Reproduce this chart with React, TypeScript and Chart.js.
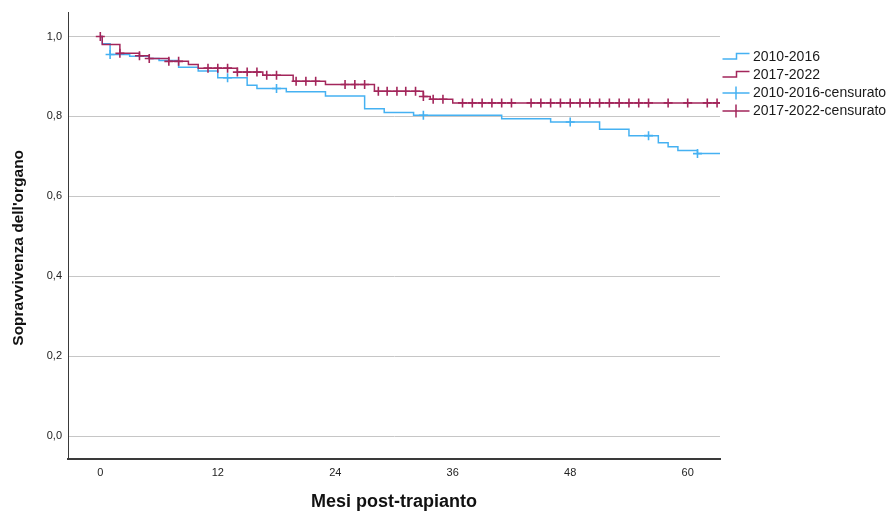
import React, { useEffect, useRef } from "react";
import { Chart, registerables } from "chart.js";

Chart.register(...registerables);

// ---- Data ----
const blueTimes = [0, 0.2, 1, 3, 5, 6, 8, 10, 12, 15, 16, 19, 23, 27, 29, 32, 41, 46, 51, 54, 57, 58, 59, 61, 63.3];
const blueSurv = [1.0, 0.982, 0.955, 0.951, 0.945, 0.94, 0.923, 0.914, 0.897, 0.878, 0.87, 0.862, 0.851, 0.819, 0.81, 0.803, 0.794, 0.786, 0.768, 0.752, 0.734, 0.724, 0.715, 0.707, 0.707];
const blueCensorTimes = [1, 13, 18, 33, 48, 56, 61];

const redTimes = [0, 0.2, 2, 4, 5, 7, 9, 10, 14, 16.6, 19.7, 23, 28, 33, 33.7, 36, 63.3];
const redSurv = [1.0, 0.98, 0.958, 0.952, 0.945, 0.938, 0.93, 0.921, 0.911, 0.903, 0.888, 0.88, 0.863, 0.85, 0.843, 0.834, 0.834];
const redCensorTimes = [0, 2, 4, 5, 7, 8, 11, 12, 13, 14, 15, 16, 17, 18, 20, 21, 22, 25, 26, 27, 28.4, 29.3, 30.3, 31.2, 32.2, 33, 34, 35, 37, 38, 39, 40, 41, 42, 44, 45, 46, 47, 48, 49, 50, 51, 52, 53, 54, 55, 56, 58, 60, 62, 63];

const xTicks = [0, 12, 24, 36, 48, 60];
const yTicks = [0, 0.2, 0.4, 0.6, 0.8, 1.0];
const legendLabels = ["2010-2016", "2017-2022", "2010-2016-censurato", "2017-2022-censurato"];
const xTitle = "Mesi post-trapianto";
const yTitle = "Sopravvivenza dell'organo";

const BLUE = "#45b1f2";
const RED = "#a3265b";

function survivalAt(times: number[], surv: number[], t: number): number {
  let s = surv[0];
  for (let i = 0; i < times.length; i++) {
    if (times[i] <= t) s = surv[i];
  }
  return s;
}

const tickFont = { family: '"Liberation Sans Narrow", "Arial Narrow", "Liberation Sans", Arial, sans-serif', size: 11 };
const xTitleFont = { family: '"Liberation Sans", Arial, sans-serif', size: 18, weight: "bold" as const };

const legendPlugin = {
  id: "kmLegend",
  afterDraw(chart: any) {
    const ctx: CanvasRenderingContext2D = chart.ctx;
    const { right, top, bottom } = chart.chartArea;
    const x0 = right + 2.5;
    const xm = right + 16.5;
    const x1 = right + 29.5;
    const tx = right + 33;
    const firstY = 57;
    const gap = 18;
    const colors = [BLUE, RED, BLUE, RED];
    ctx.save();
    ctx.font = '14px "Liberation Sans", Arial, sans-serif';
    ctx.textBaseline = "middle";
    ctx.textAlign = "left";
    legendLabels.forEach((label, i) => {
      const y = firstY + i * gap;
      ctx.strokeStyle = colors[i];
      ctx.lineWidth = 1.5;
      ctx.beginPath();
      if (i < 2) {
        ctx.moveTo(x0, y + 2);
        ctx.lineTo(xm, y + 2);
        ctx.lineTo(xm, y - 3.5);
        ctx.lineTo(x1, y - 3.5);
      } else {
        ctx.moveTo(x0, y);
        ctx.lineTo(x1, y);
        ctx.moveTo(xm - 0.5, y - 6.5);
        ctx.lineTo(xm - 0.5, y + 6.5);
      }
      ctx.stroke();
      ctx.fillStyle = "#1a1a1a";
      ctx.fillText(label, tx, y);
    });

    // y axis title
    ctx.translate(19, (top + bottom) / 2 + 12);
    ctx.rotate(-Math.PI / 2);
    ctx.font = 'bold 15.5px "Liberation Sans", Arial, sans-serif';
    ctx.textAlign = "center";
    ctx.textBaseline = "middle";
    ctx.fillStyle = "#111";
    ctx.fillText(yTitle, 0, 0);
    ctx.restore();
  },
};

export default function App() {
  const canvasRef = useRef<HTMLCanvasElement | null>(null);

  useEffect(() => {
    if (!canvasRef.current) return;
    const blueLine = blueTimes.map((t, i) => ({ x: t, y: blueSurv[i] }));
    const redLine = redTimes.map((t, i) => ({ x: t, y: redSurv[i] }));
    const blueCens = blueCensorTimes.map((t) => ({ x: t, y: survivalAt(blueTimes, blueSurv, t) }));
    const redCens = redCensorTimes.map((t) => ({ x: t, y: survivalAt(redTimes, redSurv, t) }));

    const chart = new Chart(canvasRef.current, {
      type: "line",
      data: {
        datasets: [
          {
            label: legendLabels[3],
            data: redCens,
            showLine: false,
            pointStyle: "cross",
            pointRadius: 4.5,
            pointBorderWidth: 1.6,
            pointBorderColor: RED,
            borderColor: RED,
            order: 0,
          },
          {
            label: legendLabels[2],
            data: blueCens,
            showLine: false,
            pointStyle: "cross",
            pointRadius: 4.5,
            pointBorderWidth: 1.6,
            pointBorderColor: BLUE,
            borderColor: BLUE,
            order: 1,
          },
          {
            label: legendLabels[1],
            data: redLine,
            stepped: "before",
            borderColor: RED,
            borderWidth: 1.5,
            pointRadius: 0,
            fill: false,
            order: 2,
          },
          {
            label: legendLabels[0],
            data: blueLine,
            stepped: "before",
            borderColor: BLUE,
            borderWidth: 1.5,
            pointRadius: 0,
            fill: false,
            order: 3,
          },
        ],
      },
      options: {
        animation: false,
        responsive: false,
        maintainAspectRatio: false,
        devicePixelRatio: 1,
        layout: { padding: { top: 12, right: 173, left: 0, bottom: 0 } },
        plugins: {
          legend: { display: false },
          tooltip: { enabled: false },
          title: { display: false },
        },
        scales: {
          x: {
            type: "linear",
            min: -3.3,
            max: 63.3,
            grid: { display: false, drawTicks: false },
            border: { display: true, color: "#3a3a3a", width: 2 },
            afterBuildTicks: (scale: any) => {
              scale.ticks = xTicks.map((v) => ({ value: v }));
            },
            ticks: {
              font: tickFont,
              color: "#222",
              padding: 7,
              maxRotation: 0,
              autoSkip: false,
              callback: (v: any) => String(v),
            },
            title: {
              display: true,
              text: xTitle,
              font: xTitleFont,
              color: "#111",
              padding: { top: 0, bottom: 1 },
            },
            afterFit: (scale: any) => {
              scale.height = 55;
            },
          },
          y: {
            type: "linear",
            min: -0.0575,
            max: 1.06,
            grid: { display: true, color: "#c6c6c6", lineWidth: 1, drawTicks: false },
            border: { display: true, color: "#3a3a3a", width: 1 },
            afterBuildTicks: (scale: any) => {
              scale.ticks = yTicks.map((v) => ({ value: v }));
            },
            ticks: {
              font: tickFont,
              color: "#222",
              padding: 6,
              autoSkip: false,
              callback: (v: any) => Number(v).toFixed(1).replace(".", ","),
            },
            title: { display: false },
            afterFit: (scale: any) => {
              scale.width = 68;
            },
          },
        },
      },
      plugins: [legendPlugin],
    });
    return () => chart.destroy();
  }, []);

  return (
    <div style={{ position: "fixed", left: 0, top: 0, width: 893, height: 514, background: "#fff" }}>
      <canvas ref={canvasRef} width={893} height={514} style={{ width: 893, height: 514, display: "block" }} />
    </div>
  );
}
